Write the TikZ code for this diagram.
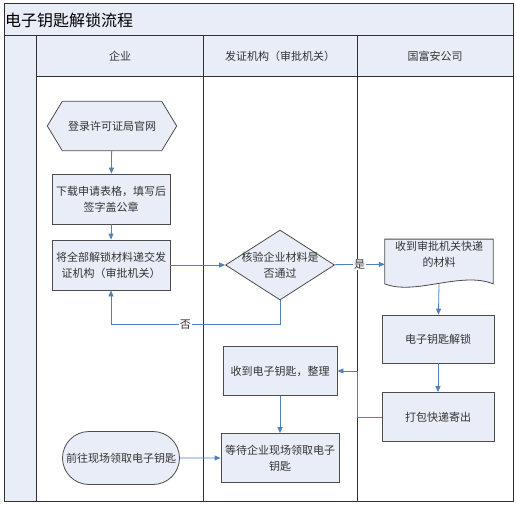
\documentclass[tikz,border=0pt]{standalone}
\usepackage{fontspec}
\setmainfont{Noto Sans CJK SC}
\usetikzlibrary{positioning}
\usetikzlibrary{shapes}
\usetikzlibrary{backgrounds}
\usetikzlibrary{arrows.meta}

\definecolor{lanefill}{HTML}{E8EDF7}
\definecolor{flowblue}{HTML}{4F81BD}
\definecolor{framegray}{HTML}{303030}

\begin{document}
\begin{tikzpicture}
	[x=1pt, y=-1pt,
	every node/.style={font=\fontsize{11}{16}\selectfont, text=black!80},
	box/.style={draw=black!70, fill=lanefill, line width=0.8pt,
		minimum width=118, minimum height=50, align=center, inner sep=2pt},
	outline/.style={draw=black!70, fill=lanefill, line width=0.8pt},
	flow/.style={draw=flowblue, line width=0.8pt,
		-{Triangle[length=6pt,width=5pt]}},
	lane/.style={draw=framegray, line width=1pt}]

\def\Left{4}
\def\Right{513}
\def\Top{4}
\def\Bottom{501}
\def\TitleBottom{36}
\def\HeadBottom{77}
\def\StripRight{36}
\def\LaneA{203}
\def\LaneB{357}

\useasboundingbox (0,0) rectangle (516,505);

% Bands
\fill[lanefill] (\Left, \Top) rectangle (\Right, \TitleBottom);
\fill[lanefill] (\Left, \TitleBottom) rectangle (\StripRight, \Bottom);
\fill[lanefill] (\StripRight, \TitleBottom) rectangle (\Right, \HeadBottom);

% Lane lines
\draw[lane] (\Left, \Top) rectangle (\Right, \Bottom);
\draw[lane] (\Left, \TitleBottom) -- (\Right, \TitleBottom);
\draw[lane] (\StripRight, \HeadBottom) -- (\Right, \HeadBottom);
\draw[lane] (\StripRight, \TitleBottom) -- (\StripRight, \Bottom);
\draw[lane] (\LaneA, \TitleBottom) -- (\LaneA, \Bottom);
\draw[lane] (\LaneB, \TitleBottom) -- (\LaneB, \Bottom);

% Titles
\node (title) [anchor=west, inner sep=0pt, text=black,
	font=\fontsize{16}{18}\selectfont] at (5, 20) {电子钥匙解锁流程};
\node (company) at (120, 56) {企业};
\node (authority) at (280, 56) {发证机构（审批机关）};
\node (vendor) at (435, 56) {国富安公司};

% Steps
\node (login) [minimum width=129, minimum height=49] at (112, 126)
	{登录许可证局官网};
\node (download) [box] at (111, 199) {下载申请表格，填写后\\签字盖公章};
\node (submit) [box] at (111, 265) {将全部解锁材料递交发\\证机构（审批机关）};
\node (check) [diamond, outline, minimum width=109, minimum height=70,
	inner sep=0pt] at (280, 265) {};
\node (checktext) [align=center] at (check) {核验企业材料是\\否通过};
\node (parcel) [minimum width=108, minimum height=48, align=center,
	inner sep=2pt] at (439, 264) {收到审批机关快递\\的材料\\[4pt]};
\node (unlock) [box, minimum width=112, minimum height=48] at (438, 339)
	{电子钥匙解锁};
\node (pack) [box, minimum width=112, minimum height=49] at (438, 417)
	{打包快递寄出};
\node (received) [box, minimum width=114, minimum height=49] at (280, 371)
	{收到电子钥匙，整理};
\node (wait) [box, minimum height=49] at (280, 458)
	{等待企业现场领取电子\\钥匙};
\node (visit) [rounded rectangle, outline, minimum width=119,
	minimum height=53, inner sep=1pt] at (121, 458) {前往现场领取电子钥匙};

% Outlines drawn behind the text
\begin{scope}[on background layer]
\draw[outline]
	(login.west) --
	([xshift=15pt]login.north west) --
	([xshift=-15pt]login.north east) --
	(login.east) --
	([xshift=-15pt]login.south east) --
	([xshift=15pt]login.south west) -- cycle;
\draw[outline]
	(parcel.north west) -- (parcel.north east) --
	([yshift=5pt]parcel.south east) .. controls +(-32,-13) and +(30,12) ..
	([yshift=5pt]parcel.south west) -- cycle;
\end{scope}

% Flow
\draw[flow] (login) -- (download);
\draw[flow] (download) -- (submit);
\draw[flow] (submit) -- (check);
\draw[flow] (check) -- node[fill=white, inner sep=1pt] {是} (parcel);
\draw[flow] (check.south) -- ++(0, 24)
	-| node[pos=0.28, fill=white, inner sep=1pt] {否} (submit.south);
\draw[flow] ([yshift=5pt]parcel.south) -- (unlock);
\draw[flow] (unlock) -- (pack);
\draw[flow] (pack.west) -- ++(-24, 0) |- (received.east);
\draw[flow] (received) -- (wait);
\draw[flow] (visit) -- (wait);

\end{tikzpicture}
\end{document}
